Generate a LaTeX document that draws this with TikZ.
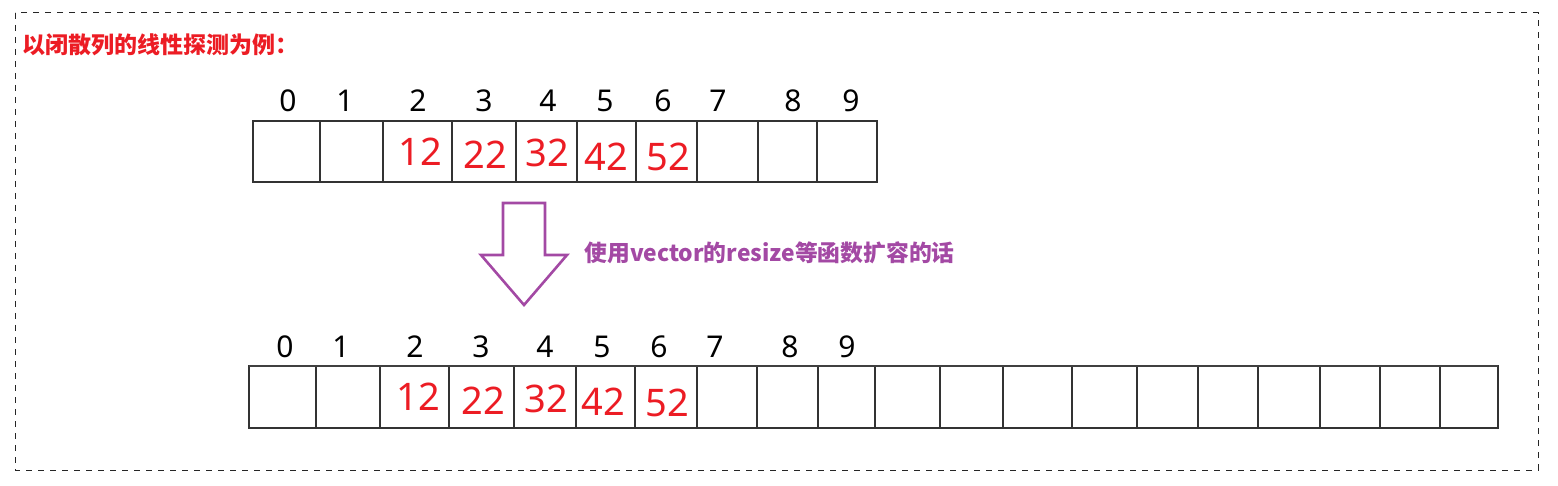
\documentclass[tikz,border=0pt]{standalone}
\usepackage{fontspec}
\setmainfont{Noto Sans}
\newfontfamily\cjk{Noto Sans CJK SC}
\usepackage{xcolor}
\usetikzlibrary{
    calc,
    positioning
}
\definecolor{hashred}{RGB}{236,28,36}
\definecolor{arrowpurple}{RGB}{163,73,164}
\tikzset{
    idx/.style={inner sep=0pt, font=\fontsize{15}{17}\selectfont},
    val/.style={inner sep=0pt, text=hashred, font=\fontsize{19}{21}\selectfont},
    cell/.style={draw=black!80, line width=0.6pt},
}

\begin{document}
\begin{tikzpicture}[x=0.5pt, y=-0.5pt]
                        \useasboundingbox (0, 0) rectangle (1558, 486);
                        \draw[black!85, dashed, line width=0.5pt] (15, 13) rectangle (1538, 470);
                        \node[anchor=west, inner sep=0pt, text=hashred, font=\cjk\bfseries\fontsize{11.5}{13}\selectfont] (title) at (22, 45) {以闭散列的线性探测为例：};
                        % old table
                        \draw[cell]
                        (253, 121) rectangle (877, 182)
                        (320, 121) -- (320, 182)
                        (383, 121) -- (383, 182)
                        (452, 121) -- (452, 182)
                        (516, 121) -- (516, 182)
                        (577, 121) -- (577, 182)
                        (636, 121) -- (636, 182)
                        (697, 121) -- (697, 182)
                        (758, 121) -- (758, 182)
                        (817, 121) -- (817, 182);
                        \node[idx] (t0) at (288, 101) {0};
                        \node[idx] (t1) at (345, 101) {1};
                        \node[idx] (t2) at (418, 101) {2};
                        \node[idx] (t3) at (484, 101) {3};
                        \node[idx] (t4) at (548, 101) {4};
                        \node[idx] (t5) at (605, 101) {5};
                        \node[idx] (t6) at (663, 101) {6};
                        \node[idx] (t7) at (718, 101) {7};
                        \node[idx] (t8) at (793, 101) {8};
                        \node[idx] (t9) at (851, 101) {9};
                        \node[val] (tv2) at (420, 152) {12};
                        \node[val] (tv3) at (485, 155) {22};
                        \node[val] (tv4) at (547, 153) {32};
                        \node[val] (tv5) at (606, 157) {42};
                        \node[val] (tv6) at (668, 157) {52};
                        % hollow arrow
                        \draw[arrowpurple, line width=1.3pt, line join=miter]
                        (503, 203) -- (545, 203) -- (545, 255) -- (567, 255)
                        -- (524, 305) -- (481, 255) -- (503, 255) -- cycle;
                        \node[anchor=west, inner sep=0pt, text=arrowpurple, font=\cjk\bfseries\fontsize{11.4}{13}\selectfont] (resize) at (584, 253) {使用vector的resize等函数扩容的话};
                        % new table
                        \draw[cell]
                        (249, 366) rectangle (1498, 428)
                        (316, 366) -- (316, 428)
                        (380, 366) -- (380, 428)
                        (449, 366) -- (449, 428)
                        (514, 366) -- (514, 428)
                        (576, 366) -- (576, 428)
                        (635, 366) -- (635, 428)
                        (697, 366) -- (697, 428)
                        (757, 366) -- (757, 428)
                        (818, 366) -- (818, 428)
                        (875, 366) -- (875, 428)
                        (940, 366) -- (940, 428)
                        (1003, 366) -- (1003, 428)
                        (1072, 366) -- (1072, 428)
                        (1137, 366) -- (1137, 428)
                        (1198, 366) -- (1198, 428)
                        (1258, 366) -- (1258, 428)
                        (1320, 366) -- (1320, 428)
                        (1380, 366) -- (1380, 428)
                        (1440, 366) -- (1440, 428);
                        \draw[black!75, line width=1.2pt] (249, 366) -- (1498, 366);
                        \node[idx] (b0) at (285, 347) {0};
                        \node[idx] (b1) at (341, 347) {1};
                        \node[idx] (b2) at (415, 347) {2};
                        \node[idx] (b3) at (481, 347) {3};
                        \node[idx] (b4) at (545, 347) {4};
                        \node[idx] (b5) at (602, 347) {5};
                        \node[idx] (b6) at (659, 347) {6};
                        \node[idx] (b7) at (715, 347) {7};
                        \node[idx] (b8) at (790, 347) {8};
                        \node[idx] (b9) at (847, 347) {9};
                        \node[val] (bv2) at (418, 397) {12};
                        \node[val] (bv3) at (483, 401) {22};
                        \node[val] (bv4) at (546, 399) {32};
                        \node[val] (bv5) at (603, 402) {42};
                        \node[val] (bv6) at (667, 403) {52};
                    \end{tikzpicture}
\end{document}
